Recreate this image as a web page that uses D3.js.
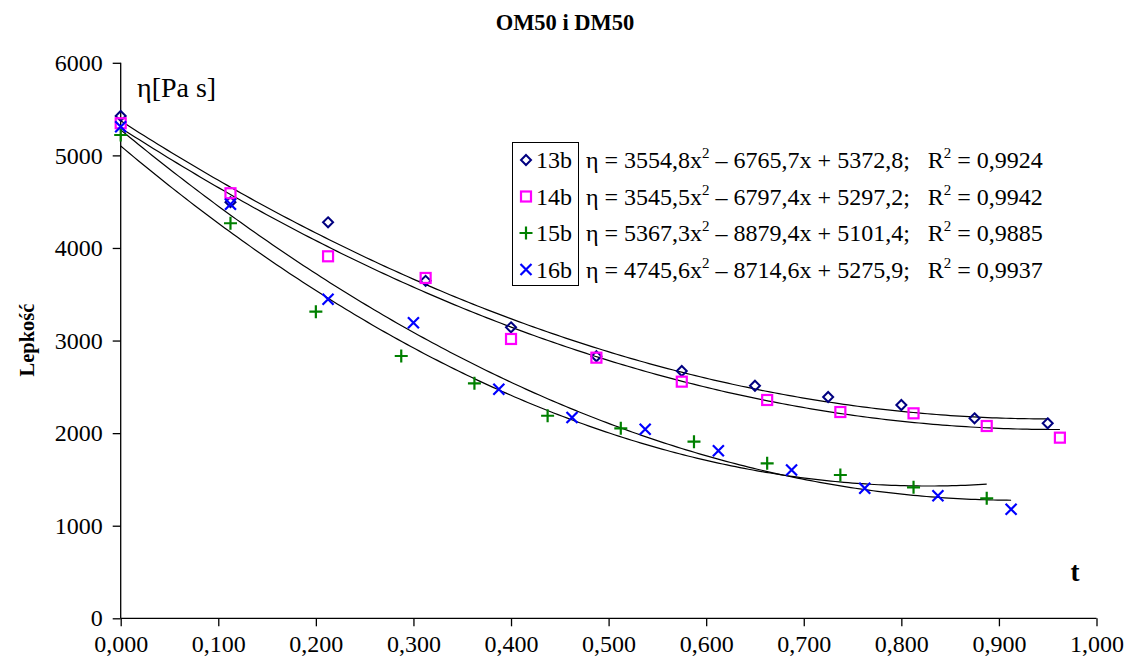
<!DOCTYPE html>
<html>
<head>
<meta charset="utf-8">
<script src="https://cdn.jsdelivr.net/npm/d3@7"></script>
<style>
  html, body { margin: 0; padding: 0; background: #fff; }
  svg text { font-family: "Liberation Serif", "Times New Roman", serif !important; }
</style>
</head>
<body>
<svg id="chart" width="1129" height="670"></svg>
<script>
// Measured viscosity vs. time for samples 13b–16b
const seriesNames = ["13b", "14b", "15b", "16b"];

const t13 = [0, 0.1125, 0.2125, 0.3125, 0.4, 0.4875, 0.575, 0.65, 0.725, 0.8, 0.875, 0.95];
const v13 = [5426, 4495, 4277, 3645, 3143, 2830, 2671, 2512, 2390, 2304, 2160, 2106];

const t14 = [0, 0.1125, 0.2125, 0.3125, 0.4, 0.4875, 0.575, 0.6625, 0.7375, 0.8125, 0.8875, 0.9625];
const v14 = [5347, 4591, 3910, 3676, 3017, 2815, 2556, 2358, 2228, 2214, 2077, 1951];

const t15 = [0, 0.1125, 0.2, 0.2875, 0.3625, 0.4375, 0.5125, 0.5875, 0.6625, 0.7375, 0.8125, 0.8875];
const v15 = [5220, 4267, 3312, 2833, 2538, 2188, 2052, 1908, 1674, 1548, 1415, 1296];

const t16 = [0, 0.1125, 0.2125, 0.3, 0.3875, 0.4625, 0.5375, 0.6125, 0.6875, 0.7625, 0.8375, 0.9125];
const v16 = [5310, 4472, 3446, 3193, 2474, 2169, 2041, 1810, 1602, 1404, 1324, 1177];

// Quadratic trendline coefficients for a*x^2 + b*x + c, and R²
const fitA = [3554.8, 3545.5, 5367.3, 4745.6];
const fitB = [-6765.7, -6797.4, -8879.4, -8714.6];
const fitC = [5372.8, 5297.2, 5101.4, 5275.9];
const fitR2 = [0.9924, 0.9942, 0.9885, 0.9937];

const xTicks = [0, 0.1, 0.2, 0.3, 0.4, 0.5, 0.6, 0.7, 0.8, 0.9, 1.0];
const yTicks = [0, 1000, 2000, 3000, 4000, 5000, 6000];

const seriesT = [t13, t14, t15, t16];
const seriesV = [v13, v14, v15, v16];
const colors = ["#000080", "#ff00ff", "#008000", "#0000ff"];
const markerKinds = ["diamond", "square", "plus", "cross"];

const svg = d3.select("#chart");

const x = d3.scaleLinear().domain([0, 1]).range([120.7, 1096.5]);
const y = d3.scaleLinear().domain([0, 6000]).range([618.3, 62.8]);

const commaFmt = v => d3.format(".3f")(v).replace(".", ",");

// Title
svg.append("text")
  .attr("x", 565).attr("y", 30)
  .attr("text-anchor", "middle")
  .attr("font-weight", "bold")
  .attr("font-size", 22.5)
  .text("OM50 i DM50");

// Axes
const xAxis = d3.axisBottom(x).tickValues(xTicks).tickFormat(commaFmt).tickSize(8).tickPadding(9);
const yAxis = d3.axisLeft(y).tickValues(yTicks).tickFormat(d3.format("d")).tickSize(8).tickPadding(10);

const gx = svg.append("g").attr("transform", `translate(0,${y(0)})`).call(xAxis);
const gy = svg.append("g").attr("transform", `translate(${x(0)},0)`).call(yAxis);

[gx, gy].forEach(g => {
  g.select(".domain").attr("stroke", "#000").attr("stroke-width", 1.3);
  g.selectAll(".tick line").attr("stroke", "#000").attr("stroke-width", 1.3);
  g.selectAll(".tick text")
    .attr("font-size", 24)
    .attr("fill", "#000");
});
gx.select(".domain").attr("d", `M${x(0)},0H${x(1)}`);
gy.select(".domain").attr("d", `M0,${y(6000)}V${y(0)}`);

// Axis titles
svg.append("text")
  .attr("transform", "translate(34,340) rotate(-90)")
  .attr("text-anchor", "middle")
  .attr("font-weight", "bold")
  .attr("font-size", 20.5)
  .text("Lepkość");

svg.append("text")
  .attr("x", 1075).attr("y", 581)
  .attr("text-anchor", "middle")
  .attr("font-weight", "bold")
  .attr("font-size", 27)
  .text("t");

svg.append("text")
  .attr("x", 137).attr("y", 97)
  .attr("font-size", 28)
  .text("η[Pa s]");

// Trendlines
const curve = (i, t) => fitA[i] * t * t + fitB[i] * t + fitC[i];
seriesT.forEach((ts, i) => {
  const tMax = d3.max(ts);
  const pts = d3.range(0, 201).map(k => {
    const t = tMax * k / 200;
    return [x(t), y(curve(i, t))];
  });
  svg.append("path")
    .attr("d", d3.line()(pts))
    .attr("fill", "none")
    .attr("stroke", "#000")
    .attr("stroke-width", 1.2);
});

// Marker drawing
function drawMarker(g, kind, color, cx, cy) {
  if (kind === "diamond") {
    const r = 5;
    g.append("path")
      .attr("d", `M${cx},${cy - r}L${cx + r},${cy}L${cx},${cy + r}L${cx - r},${cy}Z`)
      .attr("fill", "none").attr("stroke", color).attr("stroke-width", 2);
  } else if (kind === "square") {
    const r = 5;
    g.append("rect")
      .attr("x", cx - r).attr("y", cy - r).attr("width", 2 * r).attr("height", 2 * r)
      .attr("fill", "none").attr("stroke", color).attr("stroke-width", 2.2);
  } else if (kind === "plus") {
    const r = 6.5;
    g.append("path")
      .attr("d", `M${cx - r},${cy}H${cx + r}M${cx},${cy - r}V${cy + r}`)
      .attr("stroke", color).attr("stroke-width", 2.2);
  } else {
    const r = 5.5;
    g.append("path")
      .attr("d", `M${cx - r},${cy - r}L${cx + r},${cy + r}M${cx - r},${cy + r}L${cx + r},${cy - r}`)
      .attr("stroke", color).attr("stroke-width", 2.2);
  }
}

// Data points
seriesT.forEach((ts, i) => {
  const g = svg.append("g").attr("class", "series-" + seriesNames[i]);
  ts.forEach((t, j) => drawMarker(g, markerKinds[i], colors[i], x(t), y(seriesV[i][j])));
});

// Legend box
const legendRows = [160, 196.5, 233, 269.5];
svg.append("rect")
  .attr("x", 512.5).attr("y", 142.5).attr("width", 66).attr("height", 143)
  .attr("fill", "#fff").attr("stroke", "#000").attr("stroke-width", 1);

const numFmt = v => Math.abs(v).toFixed(1).replace(".", ",");

seriesNames.forEach((name, i) => {
  const cy = legendRows[i];
  drawMarker(svg, markerKinds[i], colors[i], 526, cy);
  svg.append("text")
    .attr("x", 536).attr("y", cy + 8)
    .attr("font-size", 24)
    .text(name);

  const eq = svg.append("text")
    .attr("x", 586).attr("y", cy + 8)
    .attr("font-size", 24);
  eq.append("tspan").text(`η = ${numFmt(fitA[i])}x`);
  eq.append("tspan").attr("dy", -10).attr("font-size", 15).text("2");
  eq.append("tspan").attr("dy", 10).text(` – ${numFmt(fitB[i])}x + ${numFmt(fitC[i])};\u00a0\u00a0 R`);
  eq.append("tspan").attr("dy", -10).attr("font-size", 15).text("2");
  eq.append("tspan").attr("dy", 10).text(` = ${fitR2[i].toFixed(4).replace(".", ",")}`);
});
</script>
</body>
</html>
